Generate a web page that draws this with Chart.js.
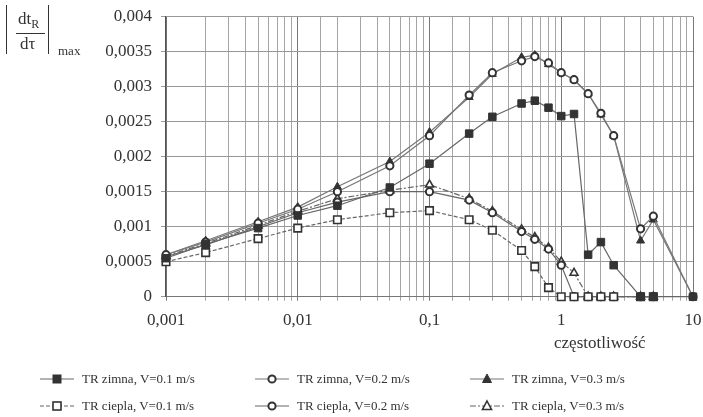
<!DOCTYPE html>
<html>
<head>
<meta charset="utf-8">
<script src="https://cdn.jsdelivr.net/npm/chart.js@4.4.1/dist/chart.umd.min.js"></script>
<style>
  html, body { margin: 0; padding: 0; background: #fff; }
  #wrap { position: relative; width: 703px; height: 417px; overflow: hidden; font-family: "Liberation Serif", "DejaVu Serif", serif; color: #333; }
  #c { position: absolute; left: 0; top: 0; }
  .abs { position: absolute; white-space: nowrap; }
  .leg { position: absolute; display: flex; align-items: center; font-size: 13px; color: #333; white-space: nowrap; }
  .leg svg { margin-right: 8px; }
</style>
</head>
<body>
<div id="wrap">
  <canvas id="c" width="703" height="417"></canvas>
  <!-- y axis label |dt_R / dτ| max -->
  <div class="abs" style="left:6px;top:5px;height:49px;border-left:1.6px solid #333;"></div>
  <div class="abs" style="left:18px;top:9px;font-size:17px;">dt<sub style="font-size:12px;">R</sub></div>
  <div class="abs" style="left:16px;top:33px;width:29px;border-top:1px solid #333;"></div>
  <div class="abs" style="left:20px;top:34px;font-size:17px;">dτ</div>
  <div class="abs" style="left:48px;top:5px;height:49px;border-left:1.6px solid #333;"></div>
  <div class="abs" style="left:58px;top:43px;font-size:13px;">max</div>
  <!-- x axis title -->
  <div class="abs" id="xtitle" style="left:554px;top:333px;font-size:17px;">częstotliwość</div>
  <div id="legend"></div>
</div>
<script>
// ---- data ----
const xValues = [0.001, 0.002, 0.005, 0.01, 0.02, 0.05, 0.1, 0.2, 0.3, 0.5, 0.63, 0.8, 1, 1.25, 1.6, 2, 2.5, 4, 5, 10];
const zimna01  = [0.00055, 0.00075, 0.00098, 0.00116, 0.0013, 0.00156, 0.0019, 0.00233, 0.00257, 0.00276, 0.0028, 0.0027, 0.00258, 0.00261, 0.0006, 0.00078, 0.00045, 0, 0, 0];
const zimna02  = [0.0006, 0.00078, 0.00105, 0.00125, 0.0015, 0.00187, 0.0023, 0.00288, 0.0032, 0.00337, 0.00343, 0.00334, 0.0032, 0.0031, 0.0029, 0.00262, 0.0023, 0.00097, 0.00115, 0];
const zimna03  = [0.0006, 0.0008, 0.00107, 0.00128, 0.00157, 0.00193, 0.00235, 0.00285, 0.00318, 0.00342, 0.00345, 0.00332, 0.0032, 0.0031, 0.0029, 0.0026, 0.0023, 0.0008, 0.0011, 0];
const ciepla01 = [0.0005, 0.00063, 0.00083, 0.00098, 0.0011, 0.0012, 0.00123, 0.0011, 0.00095, 0.00066, 0.00043, 0.00013, 0, 0, 0, 0, 0, 0, 0, null];
const ciepla02 = [0.00057, 0.00074, 0.001, 0.0012, 0.00135, 0.0015, 0.0015, 0.00138, 0.0012, 0.00093, 0.00082, 0.00068, 0.00045, 0, 0, 0, 0, 0, 0, null];
const ciepla03 = [0.00058, 0.00076, 0.00102, 0.00122, 0.0014, 0.00152, 0.0016, 0.0014, 0.00122, 0.00096, 0.00085, 0.0007, 0.0005, 0.00034, 0, 0, 0, 0, 0, null];
const seriesLabels = ["TR zimna, V=0.1 m/s", "TR zimna, V=0.2 m/s", "TR zimna, V=0.3 m/s",
                      "TR ciepla, V=0.1 m/s", "TR ciepla, V=0.2 m/s", "TR ciepla, V=0.3 m/s"];
const yTicks = [0, 0.0005, 0.001, 0.0015, 0.002, 0.0025, 0.003, 0.0035, 0.004];
const xTickLabels = [0.001, 0.01, 0.1, 1, 10];
const xTitle = "częstotliwość";

// ---- styles ----
const seriesValues = [zimna01, zimna02, zimna03, ciepla01, ciepla02, ciepla03];
const styles = [
  { pointStyle: 'rect',     radius: 5.3, fill: '#333', border: '#333', bw: 1,   line: '#666', dash: [] },
  { pointStyle: 'circle',   radius: 3.6, fill: '#fff', border: '#333', bw: 2,   line: '#777', dash: [] },
  { pointStyle: 'triangle', radius: 4.6, fill: '#333', border: '#333', bw: 1,   line: '#777', dash: [] },
  { pointStyle: 'rect',     radius: 5.3, fill: '#fff', border: '#333', bw: 1.6, line: '#666', dash: [4, 2] },
  { pointStyle: 'circle',   radius: 3.6, fill: '#fff', border: '#333', bw: 2,   line: '#666', dash: [] },
  { pointStyle: 'triangle', radius: 4.6, fill: '#fff', border: '#333', bw: 1.6, line: '#666', dash: [6, 2, 2, 2] }
];

const datasets = seriesValues.map((vals, i) => ({
  label: seriesLabels[i],
  data: xValues.map((x, k) => ({ x: x, y: vals[k] })),
  borderColor: styles[i].line,
  borderWidth: 1.2,
  borderDash: styles[i].dash,
  pointStyle: styles[i].pointStyle,
  pointRadius: styles[i].radius,
  pointBackgroundColor: styles[i].fill,
  pointBorderColor: styles[i].border,
  pointBorderWidth: styles[i].bw,
  tension: 0,
  fill: false,
  clip: false,
  spanGaps: false
}));

const isDecade = v => { const l = Math.log10(v); return Math.abs(l - Math.round(l)) < 1e-9; };
const fmt = v => String(v).replace('.', ',');

const chart = new Chart(document.getElementById('c'), {
  type: 'line',
  data: { datasets },
  options: {
    responsive: false,
    animation: false,
    layout: { padding: { left: 0, right: 10, top: 16.7, bottom: 0 } },
    plugins: { legend: { display: false }, tooltip: { enabled: false } },
    scales: {
      x: {
        type: 'logarithmic',
        min: xTickLabels[0],
        max: xTickLabels[xTickLabels.length - 1],
        afterFit: s => { s.height = 120.3; s.paddingLeft = 0; s.paddingRight = 0; },
        border: { color: '#777', width: 1 },
        grid: {
          color: ctx => (ctx.tick && isDecade(ctx.tick.value)) ? '#777' : '#a5a5a5',
          lineWidth: 1,
          tickLength: 4
        },
        ticks: {
          autoSkip: false, maxRotation: 0, padding: 10,
          color: '#333',
          font: { family: 'Liberation Serif', size: 17 },
          callback: v => xTickLabels.some(t => Math.abs(t - v) < t * 1e-6) ? fmt(v) : ''
        }
      },
      y: {
        type: 'linear',
        min: yTicks[0],
        max: yTicks[yTicks.length - 1],
        afterFit: s => { s.width = 166; s.paddingTop = 0; s.paddingBottom = 0; },
        afterBuildTicks: s => { s.ticks = yTicks.map(v => ({ value: v })); },
        border: { color: '#555', width: 1.2 },
        grid: { color: '#999', lineWidth: 1, tickLength: 5 },
        ticks: {
          padding: 9, color: '#333',
          font: { family: 'Liberation Serif', size: 17 },
          callback: v => v === 0 ? '0' : fmt(Number(v.toFixed(5)))
        }
      }
    }
  }
});

// ---- HTML legend ----
function sampleSvg(st) {
  const w = 34, h = 14, cx = 17, cy = 7;
  let marker = '';
  const fill = st.fill, stroke = st.border;
  if (st.pointStyle === 'rect') marker = `<rect x="${cx-4}" y="${cy-4}" width="8" height="8" fill="${fill}" stroke="${stroke}" stroke-width="${st.bw}"/>`;
  else if (st.pointStyle === 'circle') marker = `<circle cx="${cx}" cy="${cy}" r="3.6" fill="${fill}" stroke="${stroke}" stroke-width="2"/>`;
  else marker = `<polygon points="${cx},${cy-5} ${cx+4.5},${cy+3.5} ${cx-4.5},${cy+3.5}" fill="${fill}" stroke="${stroke}" stroke-width="${st.bw}"/>`;
  const dash = st.dash.length ? `stroke-dasharray="${st.dash.join(',')}"` : '';
  return `<svg width="${w}" height="${h}"><line x1="0" y1="${cy}" x2="${w}" y2="${cy}" stroke="${st.line}" stroke-width="1.2" ${dash}/>${marker}</svg>`;
}
const legCols = [40, 255, 470];
const legRows = [380, 407];
const legend = document.getElementById('legend');
seriesLabels.forEach((lab, i) => {
  const d = document.createElement('div');
  d.className = 'leg';
  d.style.left = legCols[i % 3] + 'px';
  d.style.top = (legRows[Math.floor(i / 3)] - 9) + 'px';
  d.innerHTML = sampleSvg(styles[i]) + '<span>' + lab + '</span>';
  legend.appendChild(d);
});
</script>
</body>
</html>
